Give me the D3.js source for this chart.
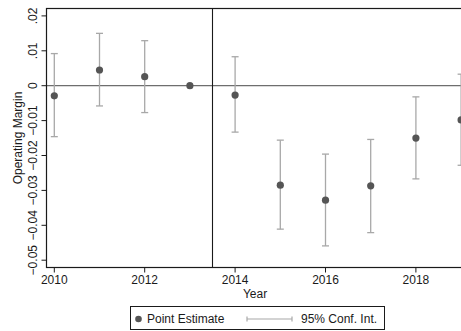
<!DOCTYPE html>
<html>
<head>
<meta charset="utf-8">
<script src="https://cdn.jsdelivr.net/npm/d3@7"></script>
<style>
  html, body { margin: 0; padding: 0; background: #fff; overflow: hidden; }
  svg { display: block; font-family: "Liberation Sans", Arial, sans-serif; }
</style>
</head>
<body>
<script>
// Event-study estimates of operating margin by year
const years     = [2010, 2011, 2012, 2013, 2014, 2015, 2016, 2017, 2018, 2019];
const estimates = [-0.0029, 0.0045, 0.0026, 0.0, -0.0027, -0.0285, -0.0328, -0.0287, -0.0150, -0.0098];
const ciLower   = [-0.0146, -0.0058, -0.0077, null, -0.0133, -0.0411, -0.0459, -0.0421, -0.0267, -0.0228];
const ciUpper   = [0.0092, 0.0150, 0.0129, null, 0.0083, -0.0156, -0.0196, -0.0154, -0.0032, 0.0033];
const yTicks    = [0.02, 0.01, 0, -0.01, -0.02, -0.03, -0.04, -0.05];
const xTicks    = [2010, 2012, 2014, 2016, 2018];
const eventYear = 2013.5;

const W = 461, H = 331;
const svgW = 490; // plot region continues past the right edge of the window
const svg = d3.select("body").append("svg").attr("width", svgW).attr("height", H);

const plot = { left: 46.5, top: 8.5, right: 469, bottom: 267.5 };

const x = d3.scaleLinear().domain([2010, 2019]).range([54.3, 54.3 + 9 * 45.2]);
const y = d3.scaleLinear().domain([0, 0.01]).range([85.7, 50.8]);

const fmt = v => {
  if (v === 0) return "0";
  const s = d3.format(".2f")(v);
  return s.replace(/^(-?)0\./, "$1.");
};

// reference lines
svg.append("line")
  .attr("x1", plot.left).attr("x2", plot.right)
  .attr("y1", y(0)).attr("y2", y(0))
  .attr("stroke", "#6e6e6e").attr("stroke-width", 1.3);
svg.append("line")
  .attr("x1", x(eventYear)).attr("x2", x(eventYear))
  .attr("y1", plot.top).attr("y2", plot.bottom)
  .attr("stroke", "#1a1a1a").attr("stroke-width", 1.1);

// confidence intervals
const data = years.map((yr, i) => ({ yr, est: estimates[i], lo: ciLower[i], hi: ciUpper[i] }));
const ci = svg.append("g").attr("stroke", "#a8a8a8").attr("stroke-width", 1.3).attr("fill", "none");
data.filter(d => d.lo !== null).forEach(d => {
  const cx = x(d.yr);
  ci.append("line").attr("x1", cx).attr("x2", cx).attr("y1", y(d.hi)).attr("y2", y(d.lo));
  ci.append("line").attr("x1", cx - 3.5).attr("x2", cx + 3.5).attr("y1", y(d.hi)).attr("y2", y(d.hi));
  ci.append("line").attr("x1", cx - 3.5).attr("x2", cx + 3.5).attr("y1", y(d.lo)).attr("y2", y(d.lo));
});

// point estimates
svg.append("g").selectAll("circle").data(data).join("circle")
  .attr("cx", d => x(d.yr)).attr("cy", d => y(d.est)).attr("r", 3.6)
  .attr("fill", "#555555");

// plot region frame
svg.append("rect")
  .attr("x", plot.left).attr("y", plot.top)
  .attr("width", plot.right - plot.left).attr("height", plot.bottom - plot.top)
  .attr("fill", "none").attr("stroke", "#1a1a1a").attr("stroke-width", 1.2);

// y axis
const yAxis = svg.append("g");
yTicks.forEach(t => {
  const ty = y(t);
  yAxis.append("line").attr("x1", plot.left - 5).attr("x2", plot.left)
    .attr("y1", ty).attr("y2", ty).attr("stroke", "#1a1a1a").attr("stroke-width", 1);
  yAxis.append("text")
    .attr("transform", `translate(37,${ty}) rotate(-90)`)
    .attr("text-anchor", "middle")
    .attr("font-size", 12).attr("fill", "#1a1a1a")
    .text(fmt(t));
});
svg.append("text")
  .attr("transform", `translate(22,${(plot.top + plot.bottom) / 2}) rotate(-90)`)
  .attr("text-anchor", "middle").attr("font-size", 12).attr("fill", "#1a1a1a")
  .text("Operating Margin");

// x axis
const xAxis = svg.append("g");
xTicks.forEach(t => {
  const tx = x(t);
  xAxis.append("line").attr("x1", tx).attr("x2", tx)
    .attr("y1", plot.bottom).attr("y2", plot.bottom + 5)
    .attr("stroke", "#1a1a1a").attr("stroke-width", 1);
  xAxis.append("text").attr("x", tx).attr("y", 283.5)
    .attr("text-anchor", "middle").attr("font-size", 12).attr("fill", "#1a1a1a")
    .text(t);
});
svg.append("text").attr("x", 255).attr("y", 297.5)
  .attr("text-anchor", "middle").attr("font-size", 12).attr("fill", "#1a1a1a")
  .text("Year");

// legend
const lg = svg.append("g");
lg.append("rect").attr("x", 130.5).attr("y", 306.5).attr("width", 254).attr("height", 23)
  .attr("fill", "#fff").attr("stroke", "#1a1a1a").attr("stroke-width", 1);
lg.append("circle").attr("cx", 138.5).attr("cy", 319).attr("r", 3.3).attr("fill", "#555555");
lg.append("text").attr("x", 147).attr("y", 323).attr("font-size", 12).attr("fill", "#1a1a1a")
  .text("Point Estimate");
lg.append("line").attr("x1", 247).attr("x2", 292).attr("y1", 319).attr("y2", 319)
  .attr("stroke", "#a8a8a8").attr("stroke-width", 1.2);
lg.append("line").attr("x1", 247).attr("x2", 247).attr("y1", 316.5).attr("y2", 321.5)
  .attr("stroke", "#a8a8a8").attr("stroke-width", 1.2);
lg.append("line").attr("x1", 292).attr("x2", 292).attr("y1", 316.5).attr("y2", 321.5)
  .attr("stroke", "#a8a8a8").attr("stroke-width", 1.2);
lg.append("text").attr("x", 301).attr("y", 323).attr("font-size", 12).attr("fill", "#1a1a1a")
  .text("95% Conf. Int.");
</script>
</body>
</html>
